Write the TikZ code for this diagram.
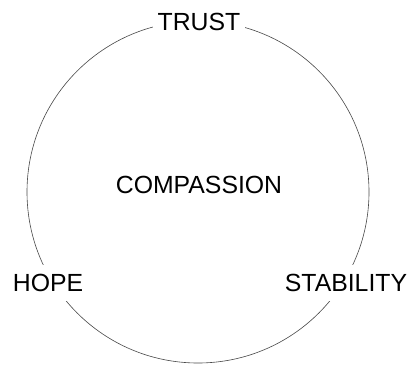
\documentclass[tikz,border=0pt]{standalone}
\usepackage{fontspec}
\setmainfont{Liberation Sans}
\usepackage{tikz}
\usepackage[svgnames]{xcolor}
\definecolor{ringgray}{RGB}{70,70,70}

\begin{document}
\begin{tikzpicture}[
    x=1pt, y=-1pt,
    value/.style={fill=white, inner xsep=5pt, inner ysep=9pt, font=\fontsize{24.8}{28}\selectfont},
    core/.style={inner sep=2pt, font=\fontsize{24.8}{28}\selectfont},
    ring/.style={line width=0.6pt, draw=ringgray}
]
\useasboundingbox (0,0) rectangle (409,364);

% Ring
\coordinate (centre) at (198,192);
\draw[ring] (centre) circle[radius=171];

% Nodes
\node[core] (compassion) at (199,185) {COMPASSION};
\node[value] (trust) at (199,22) {TRUST};
\node[value] (hope) at (48,283) {HOPE};
\node[value] (stability) at (346,283) {STABILITY};

\end{tikzpicture}
\end{document}
